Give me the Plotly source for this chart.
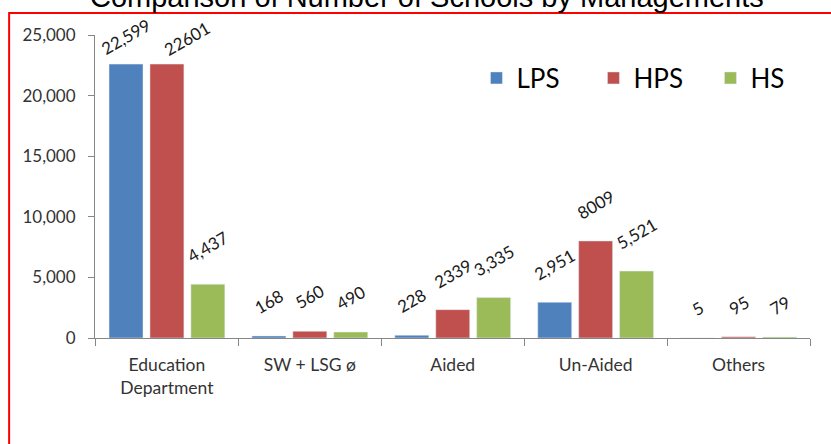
import plotly.graph_objects as go

# Data
categories = ["Education<br>Department", "SW + LSG ø", "Aided", "Un-Aided", "Others"]
lps = [22599, 168, 228, 2951, 5]
hps = [22601, 560, 2339, 8009, 95]
hs = [4437, 490, 3335, 5521, 79]
lps_labels = ["22,599", "168", "228", "2,951", "5"]
hps_labels = ["22601", "560", "2339", "8009", "95"]
hs_labels = ["4,437", "490", "3,335", "5,521", "79"]

COLORS = {'LPS': '#4F81BD', 'HPS': '#C0504D', 'HS': '#9BBB59'}
FONT = 'Lato, "Open Sans", sans-serif'
SLOT = 41  # px between bar centres within a group
# the two tallest labels are squeezed against the top of the plot, as in the original
NUDGE = {('LPS', 0): (0, -12), ('HPS', 0): (20, -13)}

series = [('LPS', lps, lps_labels), ('HPS', hps, hps_labels), ('HS', hs, hs_labels)]

fig = go.Figure()
for name, vals, labels in series:
    fig.add_trace(go.Bar(
        x=categories, y=vals, name=name,
        marker_color=COLORS[name],
    ))

# Rotated value labels above each bar
for k, (name, vals, labels) in enumerate(series):
    for i, (cat, v, lab) in enumerate(zip(categories, vals, labels)):
        dx, dy = NUDGE.get((name, i), (0, 0))
        fig.add_annotation(
            x=cat, y=v, text=lab, showarrow=False,
            textangle=-30, xanchor='center', yanchor='bottom',
            xshift=(k - 1) * SLOT + dx, yshift=15 + dy,
            font=dict(family=FONT, size=17, color='#1a1a1a'),
        )

# Title sits partly above the page edge, as in the source image
fig.add_annotation(
    x=0.465, y=1, xref='paper', yref='paper',
    text='Comparison of Number of Schools by Managements',
    showarrow=False, yanchor='middle', yshift=38.5,
    font=dict(family='"Liberation Sans", Arial, sans-serif', size=29, color='#000000'),
)

# Red frame around the chart
fig.add_shape(
    type='rect', xref='paper', yref='paper',
    x0=-0.1201, x1=1.1, y0=-0.4, y1=1.0726,
    line=dict(color='#FF0000', width=2),
)

fig.update_layout(
    width=831, height=444,
    margin=dict(l=95, r=21, t=35, b=106, autoexpand=False),
    paper_bgcolor='white', plot_bgcolor='white',
    barmode='group', bargap=0.141, bargroupgap=0.17,
    font=dict(family=FONT, color='#333333'),
    legend=dict(
        orientation='h', x=0.5335, y=0.858, xanchor='left', yanchor='middle',
        font=dict(family=FONT, size=26, color='#000000'),
        entrywidth=72, bgcolor='rgba(0,0,0,0)',
    ),
    xaxis=dict(
        showline=True, linecolor='#868686', linewidth=1,
        ticks='outside', tickson='boundaries', ticklen=7, tickcolor='#868686',
        tickfont=dict(family=FONT, size=17.5, color='#333333'),
        ticklabelstandoff=11, automargin=False,
    ),
    yaxis=dict(
        range=[0, 25000], dtick=5000, tickformat=',',
        showline=True, linecolor='#868686', linewidth=1,
        ticks='outside', ticklen=6, tickcolor='#868686',
        showgrid=False, zeroline=False,
        tickfont=dict(family=FONT, size=17, color='#333333'),
        ticklabelstandoff=9, automargin=False,
    ),
)

fig.write_html("out.html", config={'displayModeBar': False},
               post_script="document.body.style.margin = '0';")
